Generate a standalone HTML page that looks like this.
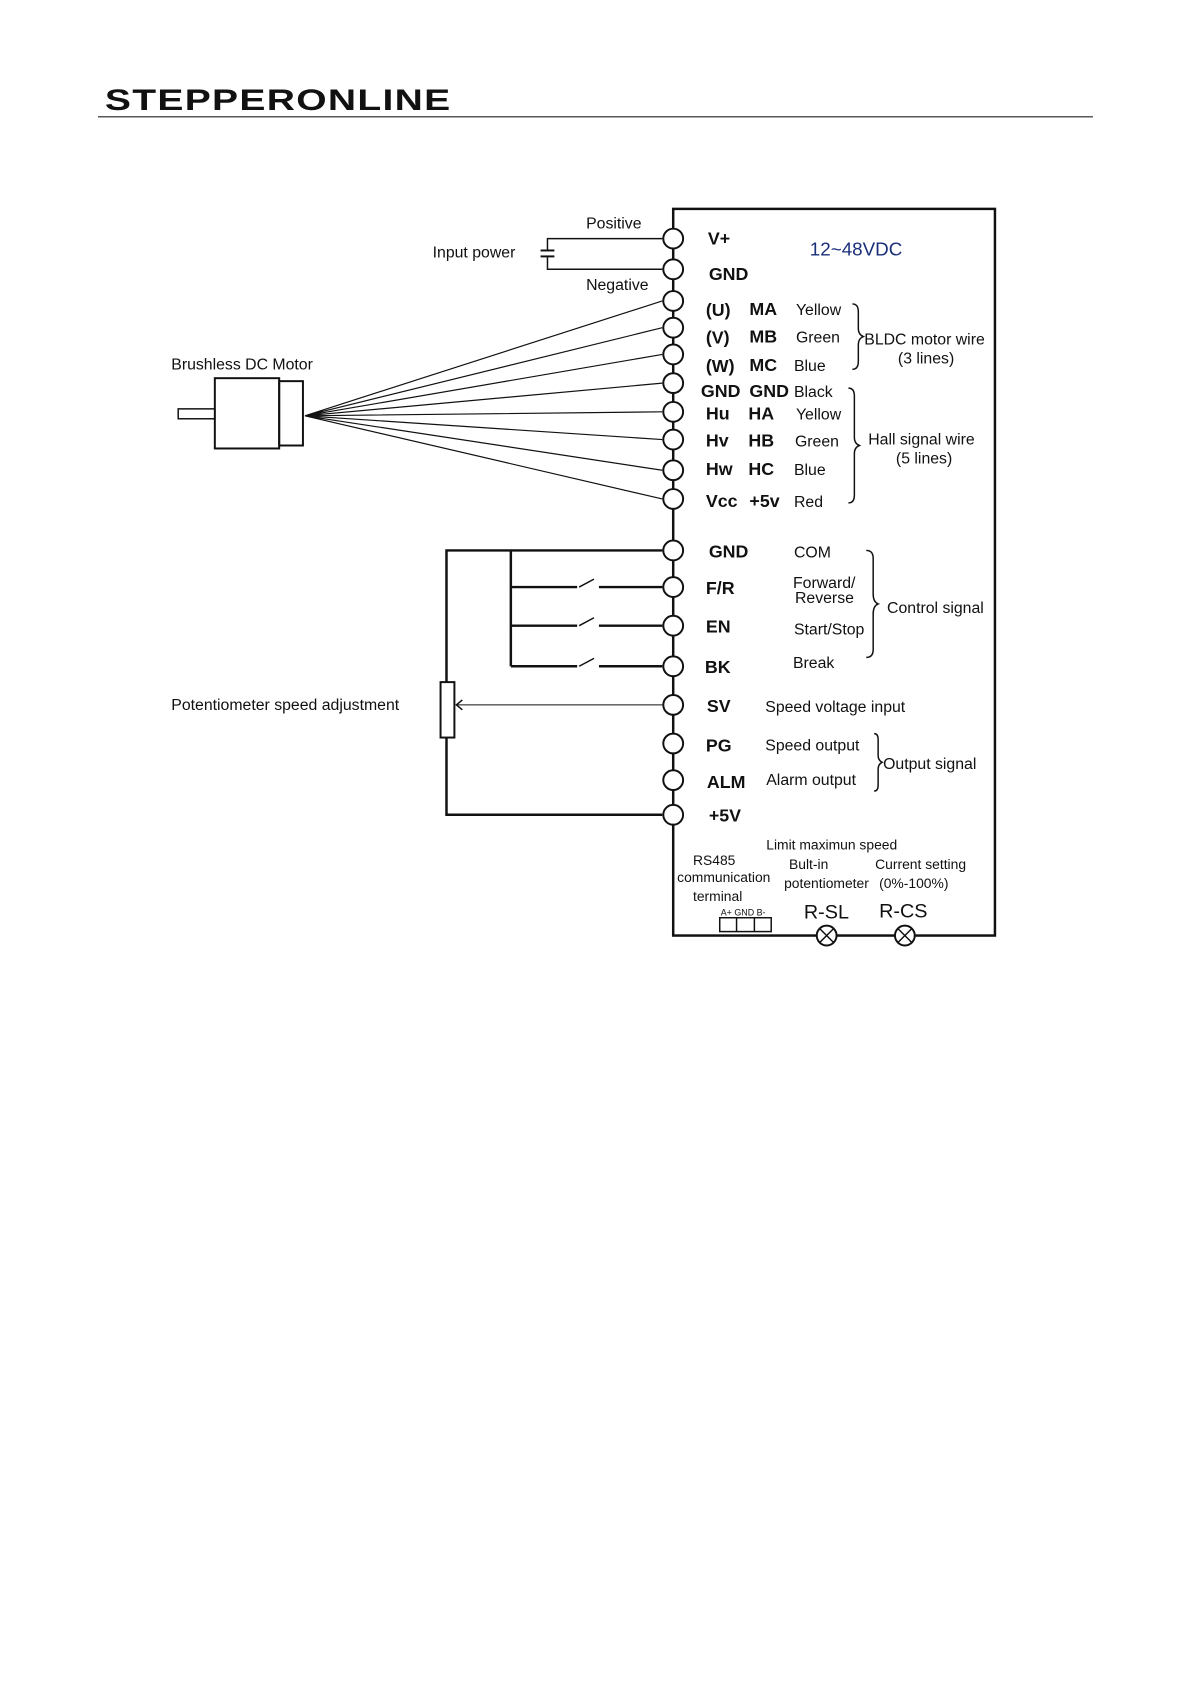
<!DOCTYPE html>
<html><head><meta charset="utf-8"><style>
body{margin:0;background:#fff}
svg{display:block}
text{font-family:"Liberation Sans",sans-serif;fill:#111}
.b{font-weight:bold;font-size:18px}
.n{font-size:16px}
.s{font-size:14px}
</style></head><body>
<svg width="1192" height="1684" viewBox="0 0 1192 1684">
<g transform="scale(0.99)">
<text x="106" y="111" style="font-size:30px;font-weight:bold;letter-spacing:1px" textLength="350" lengthAdjust="spacingAndGlyphs">STEPPERONLINE</text>
<line x1="99" y1="118" x2="1104" y2="118" stroke="#222" stroke-width="1.2"/>
<rect x="680" y="211" width="325" height="734" fill="none" stroke="#111" stroke-width="2.5"/>
<g stroke="#111" fill="none" stroke-width="1.5">
<polyline points="669,241 553,241 553,253"/>
<polyline points="669,272 553,272 553,260"/>
<line x1="546" y1="253" x2="560" y2="253" stroke-width="2"/>
<line x1="546" y1="259" x2="560" y2="259" stroke-width="2"/>
<rect x="180" y="413" width="37" height="10"/>
<rect x="217" y="382" width="65" height="71" stroke-width="2"/>
<rect x="282" y="385" width="24" height="65" stroke-width="2"/>
<path d="M308 420 L669 304 M308 420 L669 331 M308 420 L669 358 M308 420 L669 387 M308 420 L669 416 M308 420 L669 444 M308 420 L669 475 M308 420 L669 504" stroke-width="1.2"/>
<g stroke-width="2.5">
<polyline points="669,556 451,556 451,823 669,823"/>
<line x1="516" y1="556" x2="516" y2="673"/>
<line x1="516" y1="593" x2="583" y2="593"/><line x1="605" y1="593" x2="669" y2="593"/>
<line x1="516" y1="632" x2="583" y2="632"/><line x1="605" y1="632" x2="669" y2="632"/>
<line x1="516" y1="673" x2="583" y2="673"/><line x1="605" y1="673" x2="669" y2="673"/>
</g>
<line x1="585" y1="593" x2="600" y2="585"/><line x1="585" y1="632" x2="600" y2="624"/><line x1="585" y1="673" x2="600" y2="665"/>
<rect x="445" y="689" width="14" height="56" fill="#fff" stroke-width="2"/>
<line x1="461" y1="712" x2="669" y2="712" stroke-width="1"/>
<polyline points="467,707 461,712 467,717"/>
<path d="M861 307 q6 0 6 8 v17 q0 6 5 8 q-5 2 -5 8 v17 q0 8 -6 8"/>
<path d="M857 392 q6 0 6 8 v42 q0 6 5 8 q-5 2 -5 8 v42 q0 8 -6 8"/>
<path d="M875 556 q7 0 7 8 v36 q0 8 5 10 q-5 2 -5 10 v36 q0 8 -7 8"/>
<path d="M883 741 q4 0 4 6 v16 q0 5 4 7 q-4 2 -4 7 v16 q0 6 -4 6"/>
<rect x="727" y="927" width="52" height="14"/>
<line x1="744" y1="927" x2="744" y2="941"/><line x1="762" y1="927" x2="762" y2="941"/>
</g>
<g fill="#fff" stroke="#111" stroke-width="2">
<circle cx="680" cy="241" r="10"/><circle cx="680" cy="272" r="10"/><circle cx="680" cy="304" r="10"/><circle cx="680" cy="331" r="10"/><circle cx="680" cy="358" r="10"/><circle cx="680" cy="387" r="10"/><circle cx="680" cy="416" r="10"/><circle cx="680" cy="444" r="10"/><circle cx="680" cy="475" r="10"/><circle cx="680" cy="504" r="10"/><circle cx="680" cy="556" r="10"/><circle cx="680" cy="593" r="10"/><circle cx="680" cy="632" r="10"/><circle cx="680" cy="673" r="10"/><circle cx="680" cy="712" r="10"/><circle cx="680" cy="751" r="10"/><circle cx="680" cy="788" r="10"/><circle cx="680" cy="823" r="10"/>
<circle cx="835" cy="945" r="10"/><circle cx="914" cy="945" r="10"/>
</g>
<g stroke="#111" stroke-width="1.5"><path d="M828 938 L842 952 M842 938 L828 952 M907 938 L921 952 M921 938 L907 952"/></g>
<text x="592" y="231" class="n">Positive</text>
<text x="437" y="260" class="n">Input power</text>
<text x="592" y="293" class="n">Negative</text>
<text x="173" y="373" class="n">Brushless DC Motor</text>
<text x="173" y="717" class="n">Potentiometer speed adjustment</text>
<text x="818" y="258" style="font-size:19px;fill:#1a2f7a">12~48VDC</text>
<text x="715" y="247" class="b">V+</text>
<text x="716" y="283" class="b">GND</text>
<text x="713" y="319" class="b">(U)</text><text x="757" y="318" class="b">MA</text><text x="804" y="318" class="n">Yellow</text>
<text x="713" y="347" class="b">(V)</text><text x="757" y="346" class="b">MB</text><text x="804" y="346" class="n">Green</text>
<text x="713" y="376" class="b">(W)</text><text x="757" y="375" class="b">MC</text><text x="802" y="375" class="n">Blue</text>
<text x="708" y="401" class="b">GND</text><text x="757" y="401" class="b">GND</text><text x="802" y="401" class="n">Black</text>
<text x="713" y="424" class="b">Hu</text><text x="756" y="424" class="b">HA</text><text x="804" y="424" class="n">Yellow</text>
<text x="713" y="451" class="b">Hv</text><text x="756" y="451" class="b">HB</text><text x="803" y="451" class="n">Green</text>
<text x="713" y="480" class="b">Hw</text><text x="756" y="480" class="b">HC</text><text x="802" y="480" class="n">Blue</text>
<text x="713" y="512" class="b">Vcc</text><text x="757" y="512" class="b">+5v</text><text x="802" y="512" class="n">Red</text>
<text x="873" y="348" class="n">BLDC motor wire</text><text x="907" y="367" class="n">(3 lines)</text>
<text x="877" y="449" class="n">Hall signal wire</text><text x="905" y="468" class="n">(5 lines)</text>
<text x="716" y="563" class="b">GND</text><text x="802" y="563" class="n">COM</text>
<text x="713" y="600" class="b">F/R</text><text x="801" y="594" class="n">Forward/</text><text x="803" y="609" class="n">Reverse</text>
<text x="713" y="639" class="b">EN</text><text x="802" y="641" class="n">Start/Stop</text>
<text x="712" y="680" class="b">BK</text><text x="801" y="675" class="n">Break</text>
<text x="896" y="619" class="n">Control signal</text>
<text x="714" y="719" class="b">SV</text><text x="773" y="719" class="n">Speed voltage input</text>
<text x="713" y="759" class="b">PG</text><text x="773" y="758" class="n">Speed output</text>
<text x="714" y="796" class="b">ALM</text><text x="774" y="793" class="n">Alarm output</text>
<text x="892" y="777" class="n">Output signal</text>
<text x="716" y="830" class="b">+5V</text>
<text x="774" y="858" class="s">Limit maximun speed</text>
<text x="700" y="874" class="s">RS485</text>
<text x="684" y="891" class="s">communication</text>
<text x="700" y="910" class="s">terminal</text>
<text x="797" y="878" class="s">Bult-in</text>
<text x="792" y="897" class="s">potentiometer</text>
<text x="884" y="878" class="s">Current setting</text>
<text x="888" y="897" class="s">(0%-100%)</text>
<text x="728" y="925" style="font-size:9px">A+ GND B-</text>
<text x="812" y="928" style="font-size:20px">R-SL</text>
<text x="888" y="927" style="font-size:20px">R-CS</text>
</g>
</svg>
</body></html>
